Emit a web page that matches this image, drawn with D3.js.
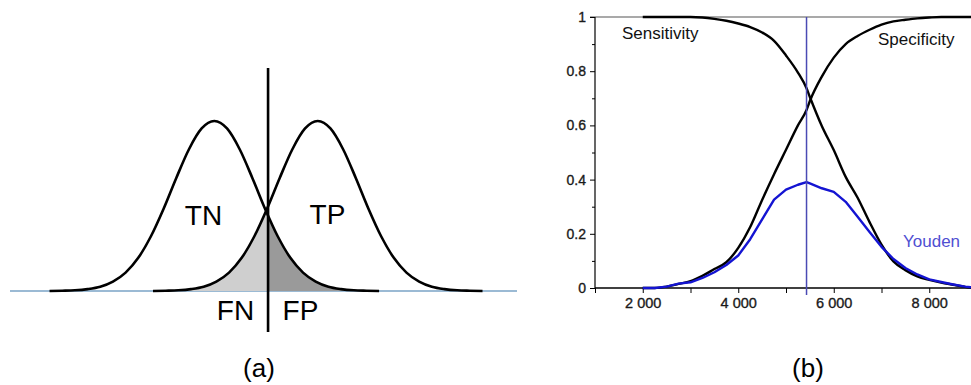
<!DOCTYPE html>
<html>
<head>
<meta charset="utf-8">
<script src="https://cdn.jsdelivr.net/npm/d3@7"></script>
<style>
  html, body { margin: 0; padding: 0; background: #fff; }
  svg { display: block; }
</style>
</head>
<body>
<svg id="chart" width="971" height="385"></svg>
<script>
// ---------- Panel (a) data: two bell-shaped distributions ----------
const negMean = 4.03;          // negatives (TN side)
const posMean = 6.07;          // positives (TP side)
const cutoff = 5.09;           // decision threshold
const shapeOffsets = [-3.25,-3.0,-2.75,-2.5,-2.25,-2.0,-1.75,-1.5,-1.25,-1.0,-0.75,-0.5,-0.25,0,0.25,0.5,0.75,1.0,1.25,1.5,1.75,2.0,2.25,2.5,2.75,3.0,3.25];
const shapeHeights = [0,0.0015,0.004,0.011,0.025,0.055,0.108,0.195,0.322,0.484,0.665,0.834,0.956,1,0.956,0.834,0.665,0.484,0.322,0.195,0.108,0.055,0.025,0.011,0.004,0.0015,0];
const regionLabels = ["TN","TP","FN","FP"];

// ---------- Panel (b) data ----------
const thresholds = [2000,2250,2500,2750,3000,3250,3500,3750,4000,4250,4500,4750,5000,5250,5430,5500,5750,6000,6250,6500,6750,7000,7250,7500,7750,8000,8250,8500,8750,8900];
const sensitivity = [1,1,1,1,1,0.998,0.993,0.986,0.976,0.963,0.943,0.912,0.858,0.795,0.737,0.705,0.598,0.509,0.41,0.333,0.243,0.16,0.098,0.066,0.043,0.03,0.02,0.012,0.004,0];
const specificity = [0,0,0.005,0.015,0.025,0.045,0.07,0.095,0.148,0.225,0.325,0.42,0.51,0.6,0.657,0.69,0.78,0.85,0.9,0.93,0.953,0.972,0.984,0.99,0.995,0.998,1,1,1,1];
const youden = [0,0,0.005,0.016,0.021,0.037,0.058,0.085,0.12,0.18,0.253,0.326,0.363,0.381,0.391,0.386,0.368,0.355,0.318,0.263,0.207,0.152,0.107,0.074,0.05,0.032,0.022,0.013,0.005,0.002];
const optimalCutoff = 5430;
const xTicks = [1000,2000,3000,4000,5000,6000,7000,8000,9000];
const xTickLabels = ["","2 000","","4 000","","6 000","","8 000",""];
const yTicks = [0,0.1,0.2,0.3,0.4,0.5,0.6,0.7,0.8,0.9,1];
const yTickLabels = ["0","","0.2","","0.4","","0.6","","0.8","","1"];
const seriesLabels = ["Sensitivity","Specificity","Youden"];
const panelLabels = ["(a)","(b)"];

const svg = d3.select("#chart");
const FONT = "'Liberation Sans', Arial, sans-serif";

// ================= Panel (a) =================
const xA = d3.scaleLinear().domain([0, 10]).range([10, 517]);
const yA = d3.scaleLinear().domain([0, 1]).range([291, 121]);
const negData = shapeOffsets.map((o, i) => ({x: negMean + o, y: shapeHeights[i]}));
const posData = shapeOffsets.map((o, i) => ({x: posMean + o, y: shapeHeights[i]}));

const gA = svg.append("g");
const defs = svg.append("defs");
defs.append("clipPath").attr("id", "clipLeft")
  .append("rect").attr("x", 0).attr("y", 0).attr("width", xA(cutoff)).attr("height", 385);
defs.append("clipPath").attr("id", "clipRight")
  .append("rect").attr("x", xA(cutoff)).attr("y", 0).attr("width", 971).attr("height", 385);

// baseline
gA.append("line").attr("x1", xA(0)).attr("x2", xA(10))
  .attr("y1", yA(0)).attr("y2", yA(0))
  .attr("stroke", "#7aa3c6").attr("stroke-width", 1.5);

const areaA = d3.area().x(d => xA(d.x)).y0(yA(0)).y1(d => yA(d.y)).curve(d3.curveMonotoneX);
const lineA = d3.line().x(d => xA(d.x)).y(d => yA(d.y)).curve(d3.curveMonotoneX);

// FN: positives below threshold (light gray)
gA.append("path").datum(posData).attr("d", areaA)
  .attr("fill", "#cfcfcf").attr("clip-path", "url(#clipLeft)");
// FP: negatives above threshold (dark gray)
gA.append("path").datum(negData).attr("d", areaA)
  .attr("fill", "#9a9a9a").attr("clip-path", "url(#clipRight)");

gA.append("path").datum(negData).attr("d", lineA)
  .attr("fill", "none").attr("stroke", "#000").attr("stroke-width", 2.6);
gA.append("path").datum(posData).attr("d", lineA)
  .attr("fill", "none").attr("stroke", "#000").attr("stroke-width", 2.6);

// threshold line
gA.append("line").attr("x1", xA(cutoff)).attr("x2", xA(cutoff))
  .attr("y1", 68).attr("y2", 332)
  .attr("stroke", "#000").attr("stroke-width", 2.6);

const labelPosA = [
  {x: 203.5, y: 225}, {x: 327.5, y: 224}, {x: 235.5, y: 320}, {x: 300.5, y: 320}
];
regionLabels.forEach((t, i) => {
  gA.append("text").attr("x", labelPosA[i].x).attr("y", labelPosA[i].y)
    .attr("text-anchor", "middle").attr("font-family", FONT)
    .attr("font-size", 28).attr("fill", "#000").text(t);
});

// ================= Panel (b) =================
const xB = d3.scaleLinear().domain([1000, 9000]).range([595, 977]);
const yB = d3.scaleLinear().domain([0, 1]).range([288, 17]);
const gB = svg.append("g");

// top frame (gray)
gB.append("line").attr("x1", 590).attr("x2", 971).attr("y1", yB(1)).attr("y2", yB(1))
  .attr("stroke", "#8c8c8c").attr("stroke-width", 1.5);

// y axis
const yAxis = d3.axisLeft(yB).tickValues(yTicks)
  .tickSize(5).tickPadding(4)
  .tickFormat((d, i) => yTickLabels[i]);
const gy = gB.append("g").attr("transform", `translate(${xB(1000)},0)`).call(yAxis);
gy.select(".domain").remove();
gy.selectAll(".tick line").attr("stroke", "#000")
  .attr("x2", (d, i) => yTickLabels[i] === "" ? -3 : -5);
gy.selectAll(".tick text").attr("font-family", FONT)
  .attr("font-size", 14).attr("fill", "#1a1a1a")
  .attr("stroke", "#1a1a1a").attr("stroke-width", 0.35);
gB.append("line").attr("x1", xB(1000)).attr("x2", xB(1000))
  .attr("y1", yB(1)).attr("y2", yB(0)).attr("stroke", "#000").attr("stroke-width", 1.2);

// x axis
const xAxis = d3.axisBottom(xB).tickValues(xTicks)
  .tickSize(5).tickPadding(5)
  .tickFormat((d, i) => xTickLabels[i]);
const gx = gB.append("g").attr("transform", `translate(0,${yB(0)})`).call(xAxis);
gx.select(".domain").remove();
gx.selectAll(".tick line").attr("stroke", "#000");
gx.selectAll(".tick text").attr("font-family", FONT)
  .attr("font-size", 14.5).attr("fill", "#1a1a1a")
  .attr("stroke", "#1a1a1a").attr("stroke-width", 0.35);
gB.append("line").attr("x1", xB(1000)).attr("x2", 971)
  .attr("y1", yB(0)).attr("y2", yB(0)).attr("stroke", "#000").attr("stroke-width", 1.5);

// curves
const lineB = (vals, curve) => d3.line()
  .x((d, i) => xB(thresholds[i])).y(d => yB(d)).curve(curve)(vals);

gB.append("path").attr("d", lineB(specificity, d3.curveMonotoneX))
  .attr("fill", "none").attr("stroke", "#000").attr("stroke-width", 2.4)
  .attr("stroke-linejoin", "round");
gB.append("path").attr("d", lineB(sensitivity, d3.curveMonotoneX))
  .attr("fill", "none").attr("stroke", "#000").attr("stroke-width", 2.4)
  .attr("stroke-linejoin", "round");
gB.append("path").attr("d", lineB(youden, d3.curveLinear))
  .attr("fill", "none").attr("stroke", "#1414d2").attr("stroke-width", 2.4)
  .attr("stroke-linejoin", "round");

// optimal cutoff line
gB.append("line").attr("x1", xB(optimalCutoff)).attr("x2", xB(optimalCutoff))
  .attr("y1", yB(1)).attr("y2", yB(0) + 7)
  .attr("stroke", "#4a4ab4").attr("stroke-width", 1.5);

// series labels
const seriesLabelPos = [{x: 622, y: 39, c: "#111"}, {x: 878, y: 45, c: "#111"}, {x: 903, y: 247, c: "#4f4fd2"}];
seriesLabels.forEach((t, i) => {
  gB.append("text").attr("x", seriesLabelPos[i].x).attr("y", seriesLabelPos[i].y)
    .attr("font-family", FONT).attr("font-size", 17)
    .attr("fill", seriesLabelPos[i].c).text(t);
});

// panel labels
const panelPos = [{x: 259, y: 377}, {x: 808, y: 377}];
panelLabels.forEach((t, i) => {
  svg.append("text").attr("x", panelPos[i].x).attr("y", panelPos[i].y)
    .attr("text-anchor", "middle").attr("font-family", FONT)
    .attr("font-size", 26).attr("fill", "#000").text(t);
});
</script>
</body>
</html>
